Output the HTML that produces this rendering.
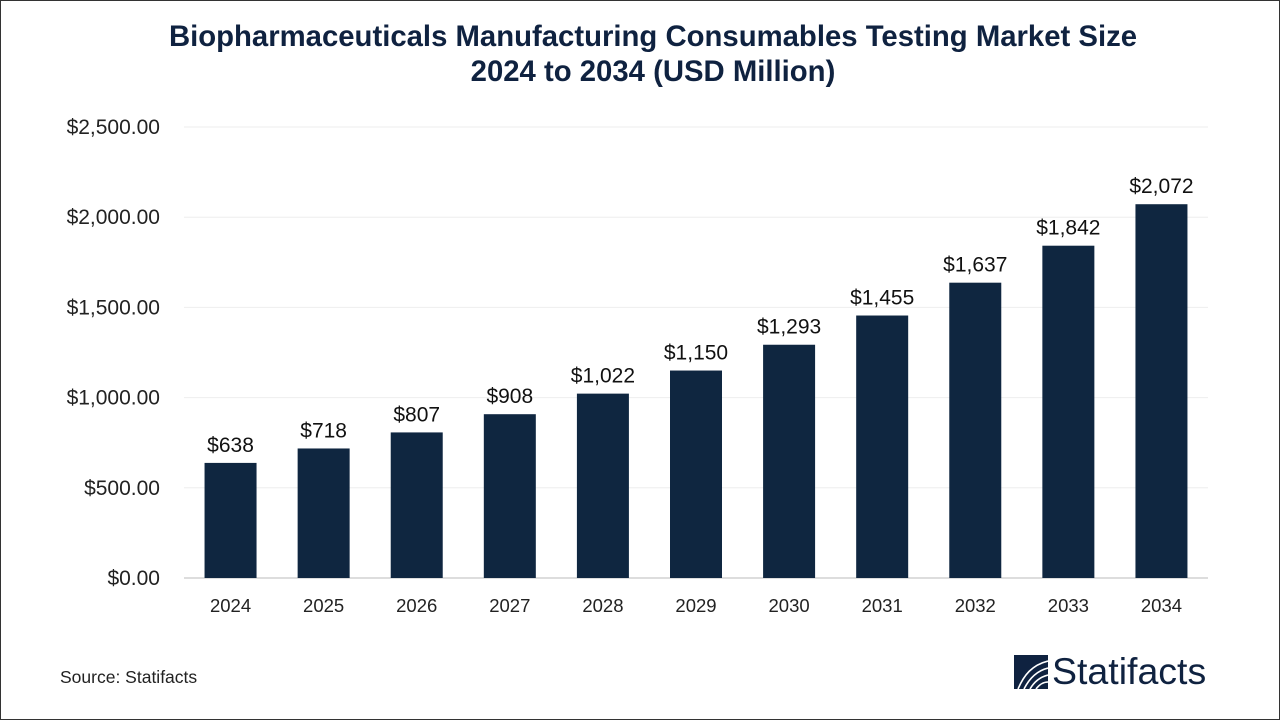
<!DOCTYPE html>
<html><head><meta charset="utf-8"><style>
body{margin:0;width:1280px;height:720px;background:#fff;font-family:"Liberation Sans",sans-serif;overflow:hidden;position:relative}
#frame{position:absolute;left:0;top:0;width:1278px;height:718px;border:1px solid #333}
#title{position:absolute;top:19px;left:0;width:1306px;text-align:center;font-weight:bold;font-size:29.3px;line-height:35px;color:#0f2240}
#src{position:absolute;left:60px;top:667px;font-size:17.5px;color:#222}
#logo{position:absolute;left:1014px;top:650px;display:flex;align-items:center}
#logo span{font-size:37.5px;color:#0f2240;margin-left:4px}
</style></head><body>
<div id="frame"></div>
<div id="title">Biopharmaceuticals Manufacturing Consumables Testing Market Size<br>2024 to 2034 (USD Million)</div>
<svg id="chart" width="1280" height="720" style="position:absolute;left:0;top:0"></svg>
<div id="src">Source: Statifacts</div>
<div id="logo">
<svg width="34" height="34" viewBox="0 0 34 34"><rect width="34" height="34" fill="#0f2240"/><g stroke="#fff" stroke-width="1.6" fill="none"><path d="M4 34 C10 20 18 10 34 6"/><path d="M10 34 C15 24 22 16 34 13"/><path d="M16 34 C20 27 26 22 34 20"/><path d="M22 34 C25 30 29 27 34 27"/></g></svg>
<span>Statifacts</span></div>
<script>
const categories=["2024","2025","2026","2027","2028","2029","2030","2031","2032","2033","2034"];
const values=[638,718,807,908,1022,1150,1293,1455,1637,1842,2072];
const valueLabels=["$638","$718","$807","$908","$1,022","$1,150","$1,293","$1,455","$1,637","$1,842","$2,072"];
const yTicks=[0,500,1000,1500,2000,2500];
const yTickLabels=["$0.00","$500.00","$1,000.00","$1,500.00","$2,000.00","$2,500.00"];
const svg=document.getElementById('chart');const NS="http://www.w3.org/2000/svg";
const x0=184,x1=1208,yBase=578,yTop=127,yMax=2500;
const y=v=>yBase-(v/yMax)*(yBase-yTop);
const step=(x1-x0)/categories.length;const xc=i=>x0+step*(i+0.5);const bw=52;
function mk(t,a){const e=document.createElementNS(NS,t);for(const k in a)e.setAttribute(k,a[k]);svg.appendChild(e);return e;}
yTicks.forEach((t,i)=>{
 const g=mk('line',{x1:x0,x2:x1,y1:y(t),y2:y(t),stroke:t===0?'#bbb':'#eee','stroke-width':1});
 
 
 const l=mk('text',{x:160,y:y(t)+7,'text-anchor':'end','font-size':21,fill:'#222','font-family':'Liberation Sans'});
 l.textContent=yTickLabels[i];
 
 
});
categories.forEach((c,i)=>{
 const r=mk('rect',{x:xc(i)-bw/2,y:y(values[i]),width:bw,height:yBase-y(values[i]),fill:'#0f2640'});
 
 
 const v=mk('text',{x:xc(i),y:y(values[i])-11,'text-anchor':'middle','font-size':21,fill:'#111','font-family':'Liberation Sans'});
 v.textContent=valueLabels[i];
 
 
 const xl=mk('text',{x:xc(i),y:612,'text-anchor':'middle','font-size':18.5,fill:'#222','font-family':'Liberation Sans'});
 xl.textContent=c;
 
 
});
</script>
</body></html>
